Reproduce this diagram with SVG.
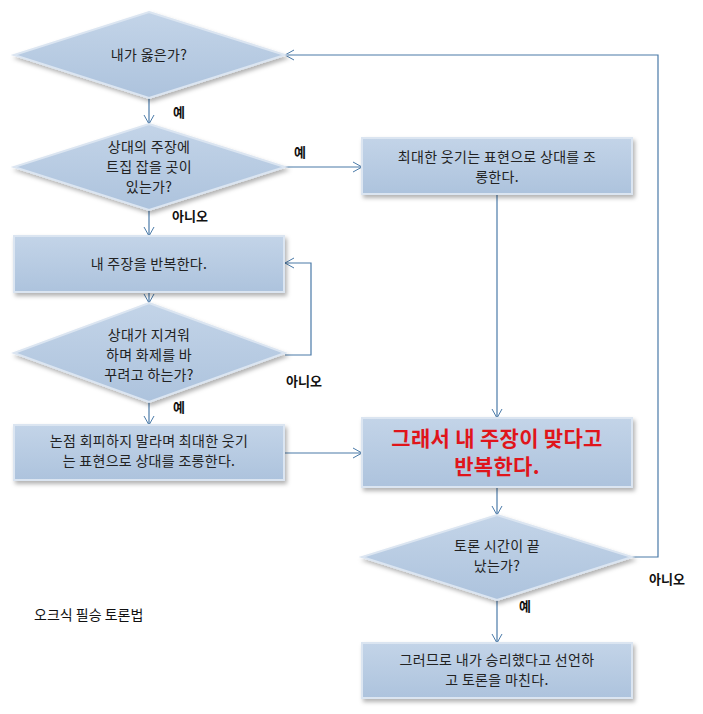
<svg xmlns="http://www.w3.org/2000/svg" width="703" height="714" viewBox="0 0 703 714">
<defs>
<linearGradient id="g" x1="0" y1="0" x2="0" y2="1"><stop offset="0" stop-color="#c3d4e8"/><stop offset="1" stop-color="#adc3dd"/></linearGradient>
<filter id="sh" x="-10%" y="-10%" width="130%" height="140%"><feDropShadow dx="2" dy="3" stdDeviation="2" flood-color="#000" flood-opacity="0.3"/></filter>
<marker id="a" markerWidth="12" markerHeight="12" refX="10" refY="6" orient="auto" markerUnits="userSpaceOnUse"><path d="M1,1 L10,6 L1,11" fill="none" stroke="#4a7aa8" stroke-width="1"/></marker>
</defs>
<style>
.n{fill:url(#g);stroke:#dbe5f1;stroke-width:2;filter:url(#sh)}
.t{font-family:"Noto Sans CJK KR","Liberation Sans",sans-serif;font-size:14px;fill:#222;text-anchor:middle;letter-spacing:0.3px}
.l{font-family:"Noto Sans CJK KR","Liberation Sans",sans-serif;font-size:13px;font-weight:bold;fill:#111}
.c{fill:none;stroke:#4a7aa8;stroke-width:1.2}
.b{font-size:21px;font-weight:bold;fill:#e0151b}
</style>
<rect width="703" height="714" fill="#fff"/>
<g id="connectors">
<path class="c" d="M149,98V124" marker-end="url(#a)"/>
<path class="c" d="M285,167H362" marker-end="url(#a)"/>
<path class="c" d="M149,210V236" marker-end="url(#a)"/>
<path class="c" d="M497,194V418" marker-end="url(#a)"/>
<path class="c" d="M149,292V303" marker-end="url(#a)"/>
<path class="c" d="M285,355H311V263H285" marker-end="url(#a)"/>
<path class="c" d="M149,402V425" marker-end="url(#a)"/>
<path class="c" d="M284,453H362" marker-end="url(#a)"/>
<path class="c" d="M497,487V515" marker-end="url(#a)"/>
<path class="c" d="M497,600V643" marker-end="url(#a)"/>
<path class="c" d="M632,557H658V55H285" marker-end="url(#a)"/>
<text class="l" x="173" y="117">예</text>
<text class="l" x="294" y="157">예</text>
<text class="l" x="172" y="221">아니오</text>
<text class="l" x="286" y="386">아니오</text>
<text class="l" x="173" y="412">예</text>
<text class="l" x="649" y="584">아니오</text>
<text class="l" x="519" y="611">예</text>
</g>
<g id="d1"><polygon class="n" points="149,12 285,55 149,98 14,55"/><text class="t" x="149" y="60">내가 옳은가?</text></g>
<g id="d2"><polygon class="n" points="149,124 285,167 149,210 14,167"/><text class="t" x="149" y="152">상대의 주장에</text><text class="t" x="149" y="172">트집 잡을 곳이</text><text class="t" x="149" y="192">있는가?</text></g>
<g id="r1"><rect class="n" x="362" y="138" width="270" height="56"/><text class="t" x="497" y="162">최대한 웃기는 표현으로 상대를 조</text><text class="t" x="497" y="182">롱한다.</text></g>
<g id="l1"><rect class="n" x="14" y="236" width="270" height="56"/><text class="t" x="149" y="269">내 주장을 반복한다.</text></g>
<g id="d3"><polygon class="n" points="149,303 285,353 149,402 14,353"/><text class="t" x="149" y="340">상대가 지겨워</text><text class="t" x="149" y="360">하며 화제를 바</text><text class="t" x="149" y="380">꾸려고 하는가?</text></g>
<g id="l2"><rect class="n" x="14" y="425" width="270" height="55"/><text class="t" x="149" y="446">논점 회피하지 말라며 최대한 웃기</text><text class="t" x="149" y="466">는 표현으로 상대를 조롱한다.</text></g>
<g id="big"><rect class="n" x="362" y="418" width="270" height="69"/><text class="t b" x="497" y="446">그래서 내 주장이 맞다고</text><text class="t b" x="497" y="474">반복한다.</text></g>
<g id="d4"><polygon class="n" points="497,515 632,557 497,600 362,557"/><text class="t" x="497" y="551">토론 시간이 끝</text><text class="t" x="497" y="571">났는가?</text></g>
<g id="end"><rect class="n" x="362" y="643" width="270" height="55"/><text class="t" x="497" y="665">그러므로 내가 승리했다고 선언하</text><text class="t" x="497" y="685">고 토론을 마친다.</text></g>
<text x="34" y="620" style="font-family:'Noto Sans CJK KR',sans-serif;font-size:14px;fill:#111">오크식 필승 토론법</text>
</svg>
